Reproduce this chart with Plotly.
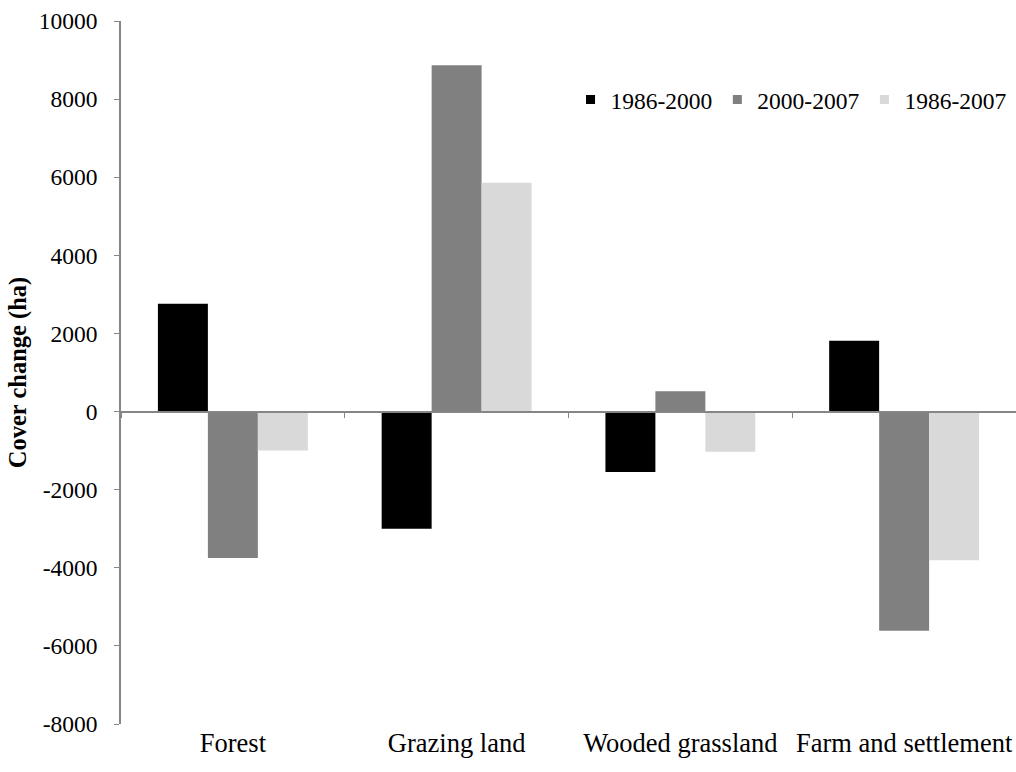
import plotly.graph_objects as go

categories = ["Forest", "Grazing land", "Wooded grassland", "Farm and settlement"]
series_names = ["1986-2000", "2000-2007", "1986-2007"]
vals_1986_2000 = [2760, -3000, -1550, 1810]
vals_2000_2007 = [-3750, 8870, 520, -5610]
vals_1986_2007 = [-1000, 5860, -1030, -3810]
colors = ["#000000", "#808080", "#d9d9d9"]
ytick_vals = [-8000, -6000, -4000, -2000, 0, 2000, 4000, 6000, 8000, 10000]
ytick_text = ["-8000", "-6000", "-4000", "-2000", "0", "2000", "4000", "6000", "8000", "10000"]
boundary_vals = [-0.5, 0.5, 1.5, 2.5, 3.5]

FONT = "Liberation Serif"
AXC = "#868686"

fig = go.Figure()
for name, vals, col in zip(series_names, [vals_1986_2000, vals_2000_2007, vals_1986_2007], colors):
    fig.add_trace(go.Bar(x=categories, y=vals, name=name, showlegend=False,
                         marker=dict(color=col, line=dict(width=0))))
# legend entries with small square swatches
for name, col in zip(series_names, colors):
    fig.add_trace(go.Scatter(x=[None], y=[None], name=name, mode="markers",
                             marker=dict(symbol="square", size=9, color=col),
                             showlegend=True, hoverinfo="skip"))

# invisible helper trace so the zero-line category axis is drawn
fig.add_trace(go.Scatter(x=[0], y=[0], xaxis="x2", yaxis="y", mode="markers",
                         marker=dict(opacity=0), showlegend=False, hoverinfo="skip"))

fig.update_layout(
    width=1016, height=772,
    margin=dict(l=121, r=0, t=21, b=48),
    paper_bgcolor="white", plot_bgcolor="white",
    font=dict(family=FONT, size=23, color="black"),
    barmode="group", bargap=0.33, bargroupgap=0,
    showlegend=True,
    legend=dict(orientation="h", x=0.995, xanchor="right", y=0.888, yanchor="middle",
                font=dict(family=FONT, size=23.5, color="black"), itemwidth=30,
                bgcolor="rgba(0,0,0,0)", traceorder="normal"),
    xaxis=dict(type="category", showline=False, ticks="", showgrid=False,
               zeroline=False, tickfont=dict(family=FONT, size=26.5, color="black"),
               range=[-0.5, 3.5]),
    xaxis2=dict(type="linear", overlaying="x", anchor="free", position=8000/18000,
                range=[-0.5, 3.5], tickvals=boundary_vals, showticklabels=False,
                ticks="outside", ticklen=6, tickcolor=AXC, showline=True,
                linecolor=AXC, linewidth=1.5, showgrid=False, zeroline=False),
    yaxis=dict(range=[-8000, 10000], tickvals=ytick_vals, ticktext=ytick_text,
               showline=True, linecolor=AXC, linewidth=1.5, ticks="outside",
               ticklen=5, tickcolor=AXC, showgrid=False, zeroline=False,
               ticklabelstandoff=12, tickfont=dict(family=FONT, size=23.5, color="black"),
               title=dict(text="<b>Cover change (ha)</b>",
                          font=dict(family=FONT, size=24.5, color="black"),
                          standoff=5)),
)

fig.write_html("out.html", config={"displayModeBar": False},
               post_script="document.body.style.margin='0';")
